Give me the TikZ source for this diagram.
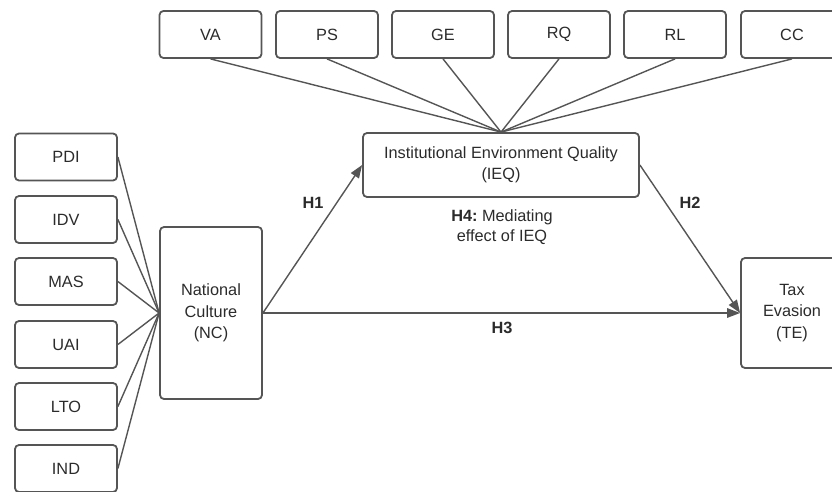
\documentclass[tikz,border=0pt]{standalone}
\usepackage{fontspec}
\setmainfont{Liberation Sans}
\usetikzlibrary{arrows.meta}
\definecolor{edge}{HTML}{555555}
\definecolor{txt}{HTML}{2B2B2B}
\begin{document}
\begin{tikzpicture}[x=1pt,y=-1pt,
  box/.style={draw=edge,line width=1.8pt,rounded corners=4pt,align=center,text=txt,
    font=\fontsize{16.3}{21.5}\selectfont,inner sep=0pt,minimum width=102pt,minimum height=47pt},
  link/.style={draw=edge,line width=1.4pt},
  arr/.style={link,-{Triangle[length=13pt,width=9.5pt]}},
  lab/.style={text=txt,font=\fontsize{16.3}{20}\selectfont,align=center,inner sep=0pt}]
\useasboundingbox (0,0) rectangle (832,492);
% top indicators
\node[box] (VA) at (210.5,34.5) {VA};
\node[box] (PS) at (327,34.5) {PS};
\node[box] (GE) at (443,34.5) {GE};
\node[box] (RQ) at (559,34.5) {RQ};
\node[box] (RL) at (675,34.5) {RL};
\node[box] (CC) at (792,34.5) {CC};
% left indicators
\node[box] (PDI) at (66,157) {PDI};
\node[box] (IDV) at (66,219.5) {IDV};
\node[box] (MAS) at (66,281.5) {MAS};
\node[box] (UAI) at (66,344.5) {UAI};
\node[box] (LTO) at (66,406.5) {LTO};
\node[box] (IND) at (66,468.5) {IND};
% constructs
\node[box,minimum height=172pt] (NC) at (211,313) {National\\Culture\\(NC)};
\node[box,minimum width=276pt,minimum height=64pt] (IEQ) at (501,165) {Institutional Environment Quality\\(IEQ)};
\node[box,minimum height=110pt] (TE) at (792,313) {Tax\\Evasion\\(TE)};
% indicator links
\foreach \n in {VA,PS,GE,RQ,RL,CC} \draw[link] (\n.south) -- (IEQ.north);
\foreach \n in {PDI,IDV,MAS,UAI,LTO,IND} \draw[link] (\n.east) -- (NC.west);
% hypotheses
\draw[arr] (NC.east) -- (IEQ.west);
\draw[arr] (IEQ.east) -- (TE.west);
\draw[arr] (NC.east) -- (TE.west);
\node[lab] (H1) at (313,203) {\textbf{H1}};
\node[lab] (H2) at (690,203) {\textbf{H2}};
\node[lab] (H3) at (502,328) {\textbf{H3}};
\node[lab] (H4) at (502,227) {\textbf{H4:}~Mediating\\effect of IEQ};
\end{tikzpicture}
\end{document}
